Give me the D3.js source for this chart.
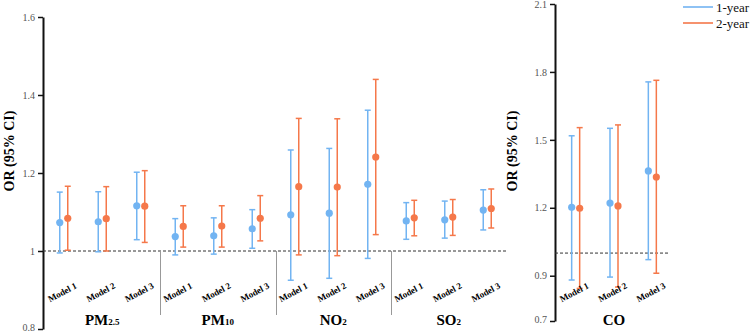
<!DOCTYPE html>
<html>
<head>
<meta charset="utf-8">
<script src="https://cdn.jsdelivr.net/npm/d3@7"></script>
<style>
  body { margin: 0; background: #fff; }
  svg text { font-family: "Liberation Serif", "Times New Roman", "DejaVu Serif", serif; }
</style>
</head>
<body>
<script>
// pollutants and models
var pollutants = ["PM2.5", "PM10", "NO2", "SO2"];
var models = ["Model 1", "Model 2", "Model 3"];

// 1-year exposure (left panel, 12 slots: pollutant x model)
var or1 = [1.073, 1.075, 1.116, 1.037, 1.039, 1.057, 1.093, 1.097, 1.171, 1.077, 1.080, 1.105];
var lo1 = [0.995, 0.998, 1.029, 0.990, 0.992, 1.007, 0.925, 0.930, 0.981, 1.030, 1.033, 1.054];
var hi1 = [1.151, 1.152, 1.202, 1.083, 1.085, 1.106, 1.259, 1.263, 1.361, 1.124, 1.128, 1.157];

// 2-year exposure
var or2 = [1.084, 1.083, 1.115, 1.063, 1.064, 1.084, 1.165, 1.164, 1.241, 1.085, 1.087, 1.109];
var lo2 = [1.002, 1.000, 1.022, 1.010, 1.010, 1.026, 0.990, 0.988, 1.042, 1.039, 1.040, 1.059];
var hi2 = [1.166, 1.165, 1.206, 1.116, 1.116, 1.142, 1.340, 1.339, 1.440, 1.130, 1.132, 1.159];

// CO (right panel)
var coOr1 = [1.202, 1.221, 1.363];
var coLo1 = [0.881, 0.894, 0.971];
var coHi1 = [1.518, 1.551, 1.756];
var coOr2 = [1.198, 1.208, 1.336];
var coLo2 = [0.844, 0.850, 0.911];
var coHi2 = [1.554, 1.566, 1.763];

var leftTicks = [0.8, 1.0, 1.2, 1.4, 1.6];
var rightTicks = [0.7, 0.9, 1.2, 1.5, 1.8, 2.1];
var seriesNames = ["1-year", "2-year"];

var blue = "#72b4f2", orange = "#f5784a";
var serif = "Liberation Serif, Times New Roman, serif";
var width = 752, height = 333;

var svg = d3.select("body").append("svg")
    .attr("width", width).attr("height", height)
    .style("display", "block");

function fmt(d) { return d === 1 ? "1" : d3.format(".1f")(d); }

function drawPanel(opts) {
  var slots = [];
  opts.groups.forEach(function(g) {
    models.forEach(function(m) { slots.push(g + "|" + m); });
  });

  var x = d3.scaleBand().domain(slots).range(opts.xRange);
  var y = d3.scaleLinear().domain(opts.yDomain).range(opts.yRange);
  var cx = function(i) { return x(slots[i]) + x.bandwidth() / 2; };

  // y axis
  var ax = svg.append("g")
      .attr("transform", "translate(" + opts.axisX + ",0)")
      .call(d3.axisLeft(y).tickValues(opts.ticks).tickFormat(fmt).tickSize(5).tickSizeOuter(0));
  ax.attr("font-family", serif);
  ax.select(".domain").attr("stroke", "#111").attr("stroke-width", 2);
  ax.selectAll(".tick line").attr("stroke", "#111").attr("stroke-width", 1.5);
  ax.selectAll(".tick text").attr("fill", "#555").attr("font-size", 10)
      .attr("dy", function(d) { return d === opts.yDomain[0] ? "0.15em" : "0.32em"; });

  svg.append("text")
      .attr("transform", "translate(" + opts.labelX + ",151) rotate(-90)")
      .attr("text-anchor", "middle")
      .attr("font-weight", "bold").attr("font-size", 14)
      .text("OR (95% CI)");

  // reference line at OR = 1
  svg.append("line")
      .attr("x1", opts.axisX).attr("x2", opts.dashEnd)
      .attr("y1", y(1)).attr("y2", y(1))
      .attr("stroke", "#333").attr("stroke-width", 1)
      .attr("stroke-dasharray", "3,2");

  // separators between pollutant groups
  for (var g = 1; g < opts.groups.length; g++) {
    var sx = Math.round(x(slots[g * 3])) + 0.5;
    svg.append("line")
        .attr("x1", sx).attr("x2", sx)
        .attr("y1", y(1)).attr("y2", 315)
        .attr("stroke", "#999").attr("stroke-width", 1);
  }

  var series = [
    {or: opts.or1, lo: opts.lo1, hi: opts.hi1, dx: -4, color: blue},
    {or: opts.or2, lo: opts.lo2, hi: opts.hi2, dx: 4, color: orange}
  ];

  series.forEach(function(s) {
    var gEl = svg.append("g");
    var idx = d3.range(s.or.length);
    gEl.selectAll(".ci").data(idx).enter().append("line")
        .attr("x1", function(i) { return cx(i) + s.dx; })
        .attr("x2", function(i) { return cx(i) + s.dx; })
        .attr("y1", function(i) { return y(s.lo[i]); })
        .attr("y2", function(i) { return y(s.hi[i]); })
        .attr("stroke", s.color).attr("stroke-width", 1.5);
    [s.lo, s.hi].forEach(function(arr) {
      gEl.selectAll(null).data(idx).enter().append("line")
          .attr("x1", function(i) { return cx(i) + s.dx - 3; })
          .attr("x2", function(i) { return cx(i) + s.dx + 3; })
          .attr("y1", function(i) { return y(arr[i]); })
          .attr("y2", function(i) { return y(arr[i]); })
          .attr("stroke", s.color).attr("stroke-width", 1.5);
    });
    gEl.selectAll("circle").data(idx).enter().append("circle")
        .attr("cx", function(i) { return cx(i) + s.dx; })
        .attr("cy", function(i) { return y(s.or[i]); })
        .attr("r", 3.6)
        .attr("fill", s.color);
  });

  // model labels
  svg.selectAll(null).data(slots).enter().append("text")
      .attr("transform", function(d, i) { return "translate(" + cx(i) + ",295) rotate(-28)"; })
      .attr("text-anchor", "middle")
      .attr("font-weight", "bold").attr("font-size", 9)
      .text(function(d) { return d.split("|")[1]; });

  // pollutant labels
  opts.groups.forEach(function(g, gi) {
    var t = svg.append("text")
        .attr("x", cx(gi * 3 + 1)).attr("y", 325)
        .attr("text-anchor", "middle")
        .attr("font-weight", "bold").attr("font-size", 15);
    var m = g.match(/^([A-Z]+)([0-9.]*)$/);
    t.append("tspan").text(m[1]);
    if (m[2]) t.append("tspan").attr("font-size", 9).text(m[2]);
  });
}

drawPanel({
  groups: pollutants, xRange: [44.5, 506.5],
  yDomain: [0.8, 1.6], yRange: [329, 17], ticks: leftTicks,
  axisX: 43, labelX: 14, dashEnd: 508,
  or1: or1, lo1: lo1, hi1: hi1, or2: or2, lo2: lo2, hi2: hi2
});

drawPanel({
  groups: ["CO"], xRange: [556.5, 671.5],
  yDomain: [0.7, 2.1], yRange: [321, 4], ticks: rightTicks,
  axisX: 555, labelX: 517, dashEnd: 669,
  or1: coOr1, lo1: coLo1, hi1: coHi1, or2: coOr2, lo2: coLo2, hi2: coHi2
});

// legend
var legend = svg.append("g");
[blue, orange].forEach(function(c, i) {
  legend.append("line")
      .attr("x1", 683).attr("x2", 713)
      .attr("y1", 7 + i * 16).attr("y2", 7 + i * 16)
      .attr("stroke", c).attr("stroke-width", 2).attr("opacity", 0.8);
  legend.append("text")
      .attr("x", 716).attr("y", 11.5 + i * 16)
      .attr("font-size", 13).attr("fill", "#111")
      .text(seriesNames[i]);
});

svg.selectAll("text").attr("font-family", serif);
</script>
</body>
</html>
